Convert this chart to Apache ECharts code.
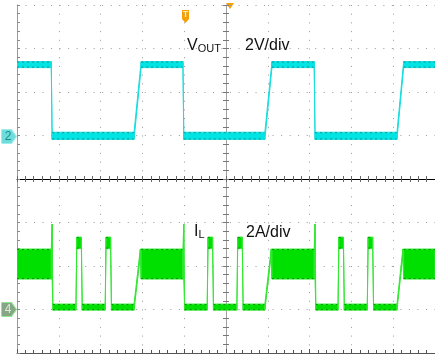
<!DOCTYPE html>
<html>
<head>
<meta charset="utf-8">
<script src="https://cdn.jsdelivr.net/npm/echarts@6/dist/echarts.min.js"></script>
<style>
  html, body { margin: 0; padding: 0; background: #fff; }
  #scope { width: 435px; height: 354px; }
</style>
</head>
<body>
<div id="scope"></div>
<script>
// Time in screen divisions, relative to the trigger point at the centre of the screen.
// Each trace is an envelope: the lower and upper edge of the displayed band.

// Output voltage (V), 2 V/div, ground reference on division +1
const voutT  = [-5, -4.18, -4.16, -2.20, -2.03, -1.03, -1.01, 0.93, 1.10, 2.11, 2.13, 4.09, 4.25, 5];
const voutHi = [3.40, 3.40, 0.15, 0.15, 3.40, 3.40, 0.15, 0.15, 3.40, 3.40, 0.15, 0.15, 3.40, 3.40];
const voutLo = [3.12, 3.12, -0.18, -0.18, 3.12, 3.12, -0.18, -0.18, 3.12, 3.12, -0.18, -0.18, 3.12, 3.12];

// Inductor current (A), 2 A/div, ground reference on division -3
const ilT  = [-5, -4.18, -4.16, -4.14, -3.59, -3.57, -3.46, -3.44, -2.89, -2.87, -2.76, -2.74,
              -2.20, -2.05, -2.03, -1.03, -1.01, -0.99, -0.45, -0.43, -0.32, -0.30, 0.26, 0.28, 0.39, 0.41,
              0.93, 1.08, 1.10, 2.11, 2.13, 2.15, 2.68, 2.70, 2.81, 2.83, 3.38, 3.40, 3.51, 3.53,
              4.09, 4.23, 4.25, 5];
const ilHi = [2.78, 2.78, 3.93, 0.25, 0.25, 3.33, 3.33, 0.25, 0.25, 3.33, 3.33, 0.25,
              0.25, 2.78, 2.78, 2.78, 3.93, 0.25, 0.25, 3.33, 3.33, 0.25, 0.25, 3.33, 3.33, 0.25,
              0.25, 2.78, 2.78, 2.78, 3.93, 0.25, 0.25, 3.33, 3.33, 0.25, 0.25, 3.33, 3.33, 0.25,
              0.25, 2.78, 2.78, 2.78];
const ilLo = [1.40, 1.40, 1.40, -0.03, -0.03, 2.80, 2.80, -0.03, -0.03, 2.80, 2.80, -0.03,
              -0.03, 2.45, 1.40, 1.40, 1.40, -0.03, -0.03, 2.80, 2.80, -0.03, -0.03, 2.80, 2.80, -0.03,
              -0.03, 2.45, 1.40, 1.40, 1.40, -0.03, -0.03, 2.80, 2.80, -0.03, -0.03, 2.80, 2.80, -0.03,
              -0.03, 2.45, 1.40, 1.40];

// Channel scales
const voutRange = [-10, 6];   // 8 div x 2 V
const ilRange   = [-2, 14];   // 8 div x 2 A

const FONT = '"Liberation Sans", Arial, sans-serif';

function segments(t, lo, hi) {
  const out = [];
  for (let i = 0; i < t.length - 1; i++) {
    out.push([t[i], lo[i], hi[i], t[i + 1], lo[i + 1], hi[i + 1]]);
  }
  return out;
}

// One quad of the band per segment; settled (flat) segments also get the
// darker speckled edges that the acquisition leaves along the band borders.
function bandRenderer(fill, stroke, edge) {
  return function (params, api) {
    const t0 = api.value(0), t1 = api.value(3);
    const lo0 = api.value(1), hi0 = api.value(2), lo1 = api.value(4), hi1 = api.value(5);
    const a = api.coord([t0, hi0]);
    const b = api.coord([t1, hi1]);
    const c = api.coord([t1, lo1]);
    const d = api.coord([t0, lo0]);
    const children = [{
      type: 'polygon',
      shape: { points: [a, b, c, d] },
      style: { fill: fill, stroke: stroke, lineWidth: 1 }
    }];
    if (t1 - t0 > 0.05 && hi0 === hi1 && lo0 === lo1) {
      const dash = { stroke: edge, lineWidth: 1, lineDash: [2, 3], opacity: 0.75 };
      children.push({ type: 'line', shape: { x1: a[0], y1: a[1] + 0.5, x2: b[0], y2: b[1] + 0.5 }, style: dash });
      children.push({ type: 'line', shape: { x1: d[0], y1: d[1] - 0.5, x2: c[0], y2: c[1] - 0.5 }, style: dash });
    }
    return { type: 'group', children: children };
  };
}

const dotted = (color, gap) => ({ color: color, width: 1, type: [1, gap] });
const TAG = 'path://M1,0 L10,0 L15,7 L10,14 L1,14 Q0,14 0,13 L0,1 Q0,0 1,0 Z';

const chart = echarts.init(document.getElementById('scope'), null, { renderer: 'canvas' });

chart.setOption({
  animation: false,
  backgroundColor: '#ffffff',
  grid: { left: 17, top: 5, right: -8, bottom: 1 },
  xAxis: [
    { // frame bottom + vertical graticule
      type: 'value', min: -5, max: 5, interval: 1, position: 'bottom',
      axisLine: { onZero: false, lineStyle: { color: '#555', width: 1 } },
      axisTick: { show: true, inside: true, length: 4, lineStyle: { color: '#555' } },
      minorTick: { show: true, splitNumber: 5, length: 3, lineStyle: { color: '#555' } },
      axisLabel: { show: false },
      splitLine: { show: true, lineStyle: dotted('#9a9a9a', 7.7) }
    },
    { // centre horizontal line
      type: 'value', min: -5, max: 5, interval: 1, position: 'top',
      axisLine: { onZero: true, onZeroAxisIndex: 0, lineStyle: { color: '#000', width: 1 } },
      axisTick: { show: true, length: 3, lineStyle: { color: '#666' } },
      minorTick: { show: true, splitNumber: 5, length: 3, lineStyle: { color: '#666' } },
      axisLabel: { show: false },
      splitLine: { show: false }
    },
    {
      type: 'value', min: -5, max: 5, interval: 1, position: 'bottom',
      axisLine: { show: false, onZero: true, onZeroAxisIndex: 0 },
      axisTick: { show: true, length: 3, lineStyle: { color: '#666' } },
      minorTick: { show: true, splitNumber: 5, length: 3, lineStyle: { color: '#666' } },
      axisLabel: { show: false },
      splitLine: { show: false }
    }
  ],
  yAxis: [
    { // frame left + horizontal graticule
      type: 'value', min: -4, max: 4, interval: 1, position: 'left',
      axisLine: { onZero: false, lineStyle: { color: '#9a9a9a', width: 1 } },
      axisTick: { show: true, inside: true, length: 3, lineStyle: { color: '#888' } },
      minorTick: { show: true, splitNumber: 5, length: 3, lineStyle: { color: '#888' } },
      axisLabel: { show: false },
      splitLine: { show: true, lineStyle: dotted('#9a9a9a', 7.52) }
    },
    { // centre vertical line
      type: 'value', min: -4, max: 4, interval: 1, position: 'left',
      axisLine: { onZero: true, onZeroAxisIndex: 0, lineStyle: { color: '#a0a0a0', width: 1 } },
      axisTick: { show: true, length: 3, lineStyle: { color: '#777' } },
      minorTick: { show: true, splitNumber: 5, length: 3, lineStyle: { color: '#777' } },
      axisLabel: { show: false },
      splitLine: { show: false }
    },
    {
      type: 'value', min: -4, max: 4, interval: 1, position: 'right',
      axisLine: { show: false, onZero: true, onZeroAxisIndex: 0 },
      axisTick: { show: true, length: 3, lineStyle: { color: '#777' } },
      minorTick: { show: true, splitNumber: 5, length: 3, lineStyle: { color: '#777' } },
      axisLabel: { show: false },
      splitLine: { show: false }
    },
    { type: 'value', min: voutRange[0], max: voutRange[1], show: false },
    { type: 'value', min: ilRange[0], max: ilRange[1], show: false }
  ],
  series: [
    {
      name: 'VOUT',
      type: 'custom',
      xAxisIndex: 0,
      yAxisIndex: 3,
      clip: true,
      renderItem: bandRenderer('#00e4e4', '#18dede', '#0a7f7f'),
      encode: { x: [0, 3], y: [1, 2, 4, 5] },
      data: segments(voutT, voutLo, voutHi),
      markPoint: {
        silent: true,
        symbol: TAG,
        symbolSize: [15, 14],
        symbolOffset: [-8, 1],
        itemStyle: { color: '#6fdcdc', borderColor: '#9feeee', borderWidth: 1 },
        label: { show: true, position: 'inside', offset: [-1, 0], formatter: '2',
                 color: '#178f8f', fontSize: 12, fontFamily: FONT },
        data: [{ coord: [-5, 0] }]
      }
    },
    {
      name: 'IL',
      type: 'custom',
      xAxisIndex: 0,
      yAxisIndex: 4,
      clip: true,
      renderItem: bandRenderer('#00e000', '#33e833', '#007a00'),
      encode: { x: [0, 3], y: [1, 2, 4, 5] },
      data: segments(ilT, ilLo, ilHi),
      markPoint: {
        silent: true,
        symbol: TAG,
        symbolSize: [15, 14],
        symbolOffset: [-8, 0],
        itemStyle: { color: '#86a686', borderColor: '#8ee88e', borderWidth: 1 },
        label: { show: true, position: 'inside', offset: [-1, 0], formatter: '4',
                 color: '#dde9dd', fontSize: 12, fontFamily: FONT },
        data: [{ coord: [-5, 0] }]
      }
    }
  ],
  graphic: [
    { // trigger position marker
      type: 'polygon', silent: true,
      shape: { points: [[226, 3], [234, 3], [230, 9]] },
      style: { fill: '#f5a000' }
    },
    { // trigger level badge
      type: 'polygon', silent: true,
      shape: { points: [[182, 10], [189, 10], [189, 19], [185.5, 23], [182, 19]] },
      style: { fill: '#f5a000' }
    },
    {
      type: 'text', silent: true, x: 185.5, y: 15,
      style: { text: 'T', fill: '#ffe7b0', font: 'bold 9px ' + FONT, align: 'center', verticalAlign: 'middle' }
    },
    {
      type: 'text', silent: true, x: 187, y: 46,
      style: {
        text: '{a|V}{b|OUT}', verticalAlign: 'middle', fill: '#111',
        rich: {
          a: { fontSize: 16, fontFamily: FONT, fill: '#111', verticalAlign: 'bottom' },
          b: { fontSize: 11, fontFamily: FONT, fill: '#111', verticalAlign: 'bottom' }
        }
      }
    },
    {
      type: 'text', silent: true, x: 245, y: 46,
      style: { text: '2V/div', fill: '#111', font: '16px ' + FONT, verticalAlign: 'middle' }
    },
    {
      type: 'text', silent: true, x: 194, y: 232,
      style: {
        text: '{a|I}{b|L}', verticalAlign: 'middle', fill: '#111',
        rich: {
          a: { fontSize: 16, fontFamily: FONT, fill: '#111', verticalAlign: 'bottom' },
          b: { fontSize: 11, fontFamily: FONT, fill: '#111', verticalAlign: 'bottom' }
        }
      }
    },
    {
      type: 'text', silent: true, x: 246, y: 233,
      style: { text: '2A/div', fill: '#111', font: '16px ' + FONT, verticalAlign: 'middle' }
    }
  ]
});
</script>
</body>
</html>
